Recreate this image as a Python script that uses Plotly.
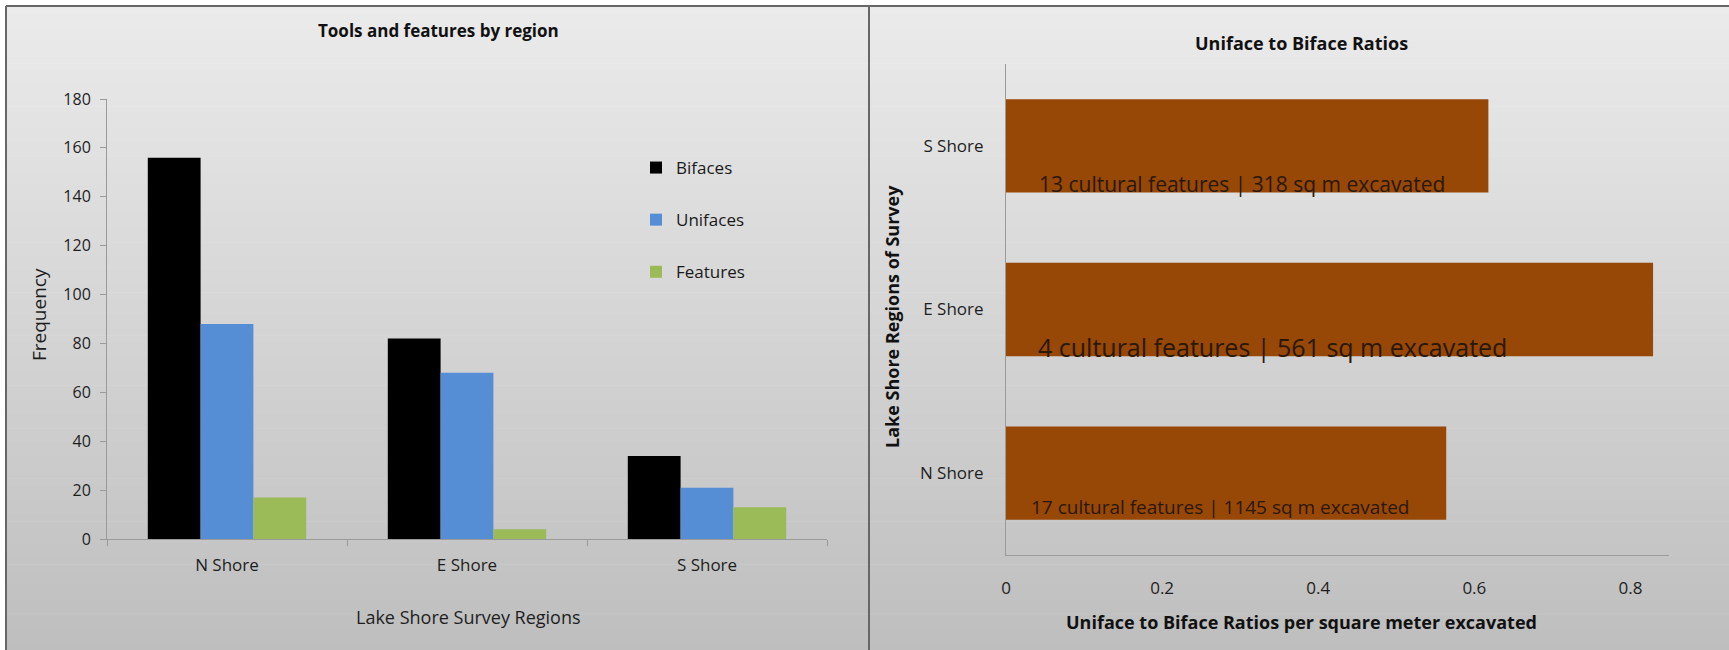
import plotly.graph_objects as go

# ---- data -------------------------------------------------------------
regions = ["N Shore", "E Shore", "S Shore"]
bifaces = [156, 82, 34]
unifaces = [88, 68, 21]
features = [17, 4, 13]

ratio_regions = ["N Shore", "E Shore", "S Shore"]
ratios = [0.564, 0.829, 0.618]
ratio_notes = [
    "17 cultural features | 1145 sq m excavated",
    "4 cultural features | 561 sq m excavated",
    "13 cultural features | 318 sq m excavated",
]

freq_ticks = [0, 20, 40, 60, 80, 100, 120, 140, 160, 180]
ratio_ticks = [0, 0.2, 0.4, 0.6, 0.8]

# ---- canvas helpers ---------------------------------------------------
W, H = 1729, 650
FONT = "'Open Sans', 'Noto Sans', sans-serif"
INK = "#1e1e1e"


def px(x):
    return x / W


def py(y):
    return 1 - y / H


fig = go.Figure()

# ---- left: grouped columns -------------------------------------------
for name, vals, color in [
    ("Bifaces", bifaces, "#000000"),
    ("Unifaces", unifaces, "#558ed5"),
    ("Features", features, "#9bbb59"),
]:
    fig.add_trace(go.Bar(
        x=regions, y=vals, name=name, marker=dict(color=color, line=dict(width=0)),
        xaxis="x", yaxis="y", legendgroup=name,
    ))

# ---- right: horizontal ratio bars -------------------------------------
fig.add_trace(go.Bar(
    y=ratio_regions, x=ratios, orientation="h", xaxis="x2", yaxis="y2",
    width=0.57, marker=dict(color="#974706", line=dict(width=0)), showlegend=False,
))

# ---- background gradient, frame lines ---------------------------------
shapes = []
top_c = (235, 235, 235)
bot_c = (190, 190, 190)
n = 90
y0, y1 = 6, H
for i in range(n):
    t = i / (n - 1)
    c = tuple(round(a + (b - a) * t) for a, b in zip(top_c, bot_c))
    ya = y0 + (y1 - y0) * i / n
    yb = y0 + (y1 - y0) * (i + 1) / n + 0.6
    shapes.append(dict(
        type="rect", xref="paper", yref="paper", layer="below",
        x0=px(6), x1=1, y0=py(yb), y1=py(ya),
        fillcolor="rgb(%d,%d,%d)" % c, line=dict(width=0),
    ))
frame = dict(color="#676767", width=2)
shapes += [
    dict(type="line", xref="paper", yref="paper", x0=px(6), x1=1, y0=py(6), y1=py(6), line=frame),
    dict(type="line", xref="paper", yref="paper", x0=px(6), x1=px(6), y0=py(6), y1=0, line=frame),
    dict(type="line", xref="paper", yref="paper", x0=px(869), x1=px(869), y0=py(6), y1=0, line=frame),
]

# ---- titles and labels -------------------------------------------------
def label(text, x, y, size, bold=False, angle=0, color=INK):
    return dict(
        text=("<b>%s</b>" % text) if bold else text, xref="paper", yref="paper",
        x=px(x), y=py(y), xanchor="center", yanchor="middle", showarrow=False,
        textangle=angle, font=dict(family=FONT, size=size, color=color),
    )


annotations = [
    label("Tools and features by region", 438, 30, 17, bold=True, color="#111111"),
    label("Frequency", 39, 315, 19, angle=-90),
    label("Lake Shore Survey Regions", 468, 617, 18),
    label("Uniface to Biface Ratios", 1301, 43, 18, bold=True, color="#111111"),
    label("Lake Shore Regions of Survey", 892, 317, 18, bold=True, angle=-90, color="#111111"),
    label("Uniface to Biface Ratios per square meter excavated", 1301, 622, 18,
          bold=True, color="#111111"),
]

# notes written across the bottom of each ratio bar
note_style = {
    "N Shore": dict(x=0.030, size=19, shift=-34),
    "E Shore": dict(x=0.038, size=25, shift=-37),
    "S Shore": dict(x=0.040, size=21, shift=-38),
}
for reg, note in zip(ratio_regions, ratio_notes):
    s = note_style[reg]
    annotations.append(dict(
        text=note, xref="x2", yref="y2", x=s["x"], y=reg, xanchor="left",
        yanchor="middle", yshift=s["shift"], showarrow=False,
        font=dict(family=FONT, size=s["size"], color="#2a1805"),
    ))

axis_line = "#9a9a9a"
fig.update_layout(
    width=W, height=H,
    margin=dict(l=0, r=0, t=0, b=0, autoexpand=False),
    paper_bgcolor="white", plot_bgcolor="rgba(0,0,0,0)",
    font=dict(family=FONT, color=INK),
    barmode="group", bargap=0.34, bargroupgap=0,
    shapes=shapes, annotations=annotations,
    showlegend=True,
    legend=dict(
        x=px(636), y=py(150), xanchor="left", yanchor="top",
        bgcolor="rgba(0,0,0,0)", font=dict(family=FONT, size=17, color="#1a1a1a"),
        tracegroupgap=27, itemwidth=30,
    ),
    xaxis=dict(
        domain=[px(107), px(827)], anchor="y", type="category",
        showline=True, linecolor=axis_line, linewidth=1,
        ticks="outside", tickson="boundaries", ticklen=6, tickcolor=axis_line,
        tickfont=dict(family=FONT, size=17, color=INK), ticklabelstandoff=11,
        showgrid=False, zeroline=False, fixedrange=True, automargin=False,
    ),
    yaxis=dict(
        domain=[py(539), py(99)], anchor="x", range=[0, 180],
        tickvals=freq_ticks, ticktext=[str(v) for v in freq_ticks],
        showline=True, linecolor=axis_line, linewidth=1,
        ticks="outside", ticklen=6, tickcolor=axis_line, ticklabelstandoff=6,
        tickfont=dict(family=FONT, size=16, color=INK),
        showgrid=False, zeroline=False, fixedrange=True, automargin=False,
    ),
    xaxis2=dict(
        domain=[px(1006), px(1669)], anchor="y2", range=[0, 0.8494],
        tickvals=ratio_ticks, ticktext=["0", "0.2", "0.4", "0.6", "0.8"],
        showline=True, linecolor=axis_line, linewidth=1, ticks="",
        tickfont=dict(family=FONT, size=17, color=INK), ticklabelstandoff=18,
        showgrid=False, zeroline=False, fixedrange=True, automargin=False,
    ),
    yaxis2=dict(
        domain=[py(555), py(64)], anchor="x2", type="category",
        categoryorder="array", categoryarray=ratio_regions, range=[-0.5, 2.5],
        showline=True, linecolor=axis_line, linewidth=1, ticks="",
        tickfont=dict(family=FONT, size=17, color=INK), ticklabelstandoff=18,
        showgrid=False, zeroline=False, fixedrange=True, automargin=False,
    ),
)

# the page body gets no default margin so the figure fills the window exactly
fig.write_html(
    "out.html",
    post_script="document.body.style.margin='0';document.body.style.overflow='hidden';",
)
